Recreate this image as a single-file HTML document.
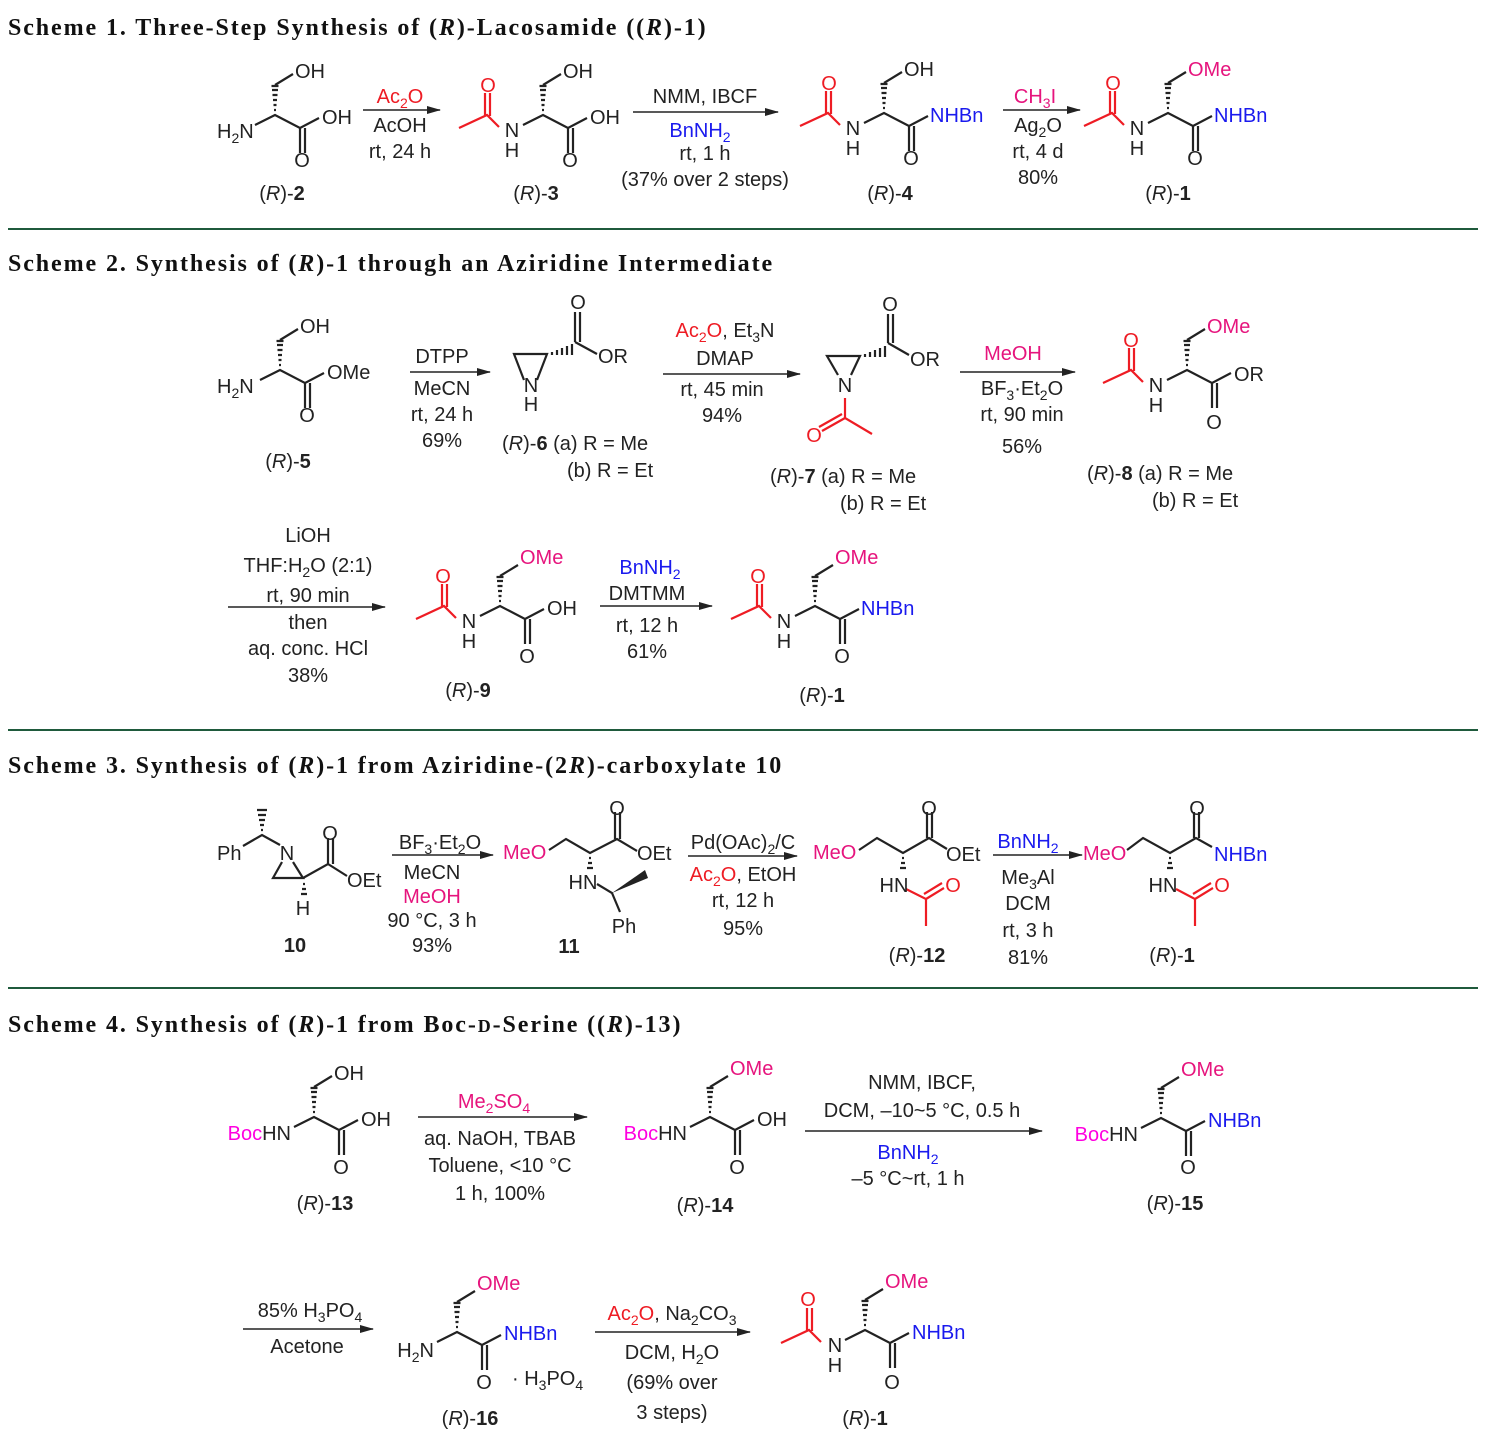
<!DOCTYPE html>
<html><head><meta charset="utf-8"><style>
html,body{margin:0;padding:0;background:#fff}
svg{display:block}
text{font-family:"Liberation Sans",sans-serif;font-size:20px;fill:#222}
.h{font-family:"Liberation Serif",serif;font-size:24px;font-weight:bold;fill:#111;letter-spacing:1.9px}
.m{text-anchor:middle}
.e{text-anchor:end}
.r{fill:#ee1c24}.b{fill:#1a1aee}.p{fill:#e6147d}.k{fill:#ff00e0}
.ln{stroke:#222;stroke-width:2.2;fill:none}
.rl{stroke:#ee1c24;stroke-width:2.2;fill:none}
.sep{stroke:#1f5a3c;stroke-width:2}
.ar{stroke:#222;stroke-width:1.6}
</style></head><body>
<svg width="1489" height="1439" viewBox="0 0 1489 1439" xmlns="http://www.w3.org/2000/svg">
<defs>
<marker id="ah" markerWidth="14" markerHeight="10" refX="13" refY="5" orient="auto" markerUnits="userSpaceOnUse"><path d="M0,1 L14,5 L0,9 z" fill="#222"/></marker>
<g id="core">
<path class="ln" d="M-20,10 L0,0 L25,13 L44,3 M25,13 L25,38 M30,13 L30,38 M0,-30 L18,-41"/>
<path class="ln" stroke-width="1.6" d="M-1,-5 h2 M-1.5,-10 h3 M-2,-15 h4 M-2.5,-20 h5 M-3,-25 h6 M-3.5,-29 h7"/>
</g>
<g id="ac">
<path class="rl" d="M-44,12 L-56,0 L-84,13 M-58,1 L-58,-22 M-53,1 L-53,-22"/>
</g>
</defs>

<!-- Headers -->
<text class="h" x="8" y="35">Scheme 1. Three-Step Synthesis of (<tspan font-style="italic">R</tspan>)-Lacosamide ((<tspan font-style="italic">R</tspan>)-1)</text>
<line class="sep" x1="8" y1="229" x2="1478" y2="229"/>
<text class="h" x="8" y="271">Scheme 2. Synthesis of (<tspan font-style="italic">R</tspan>)-1 through an Aziridine Intermediate</text>
<line class="sep" x1="8" y1="730" x2="1478" y2="730"/>
<text class="h" x="8" y="773">Scheme 3. Synthesis of (<tspan font-style="italic">R</tspan>)-1 from Aziridine-(2<tspan font-style="italic">R</tspan>)-carboxylate 10</text>
<line class="sep" x1="8" y1="988" x2="1478" y2="988"/>
<text class="h" x="8" y="1032">Scheme 4. Synthesis of (<tspan font-style="italic">R</tspan>)-1 from Boc-<tspan font-size="18">D</tspan>-Serine ((<tspan font-style="italic">R</tspan>)-13)</text>

<!-- ===== Scheme 1 ===== -->
<g transform="translate(275,115)"><use href="#core"/>
<text x="20" y="-37">OH</text><text x="47" y="9">OH</text><text class="m" x="27" y="52">O</text>
<text x="-58" y="23">H<tspan dy="5" font-size="14">2</tspan><tspan dy="-5">N</tspan></text></g>
<text class="m" x="282" y="200">(<tspan font-style="italic">R</tspan>)-<tspan font-weight="bold">2</tspan></text>

<line class="ar" x1="363" y1="110" x2="440" y2="110" marker-end="url(#ah)"/>
<text class="m r" x="400" y="103">Ac<tspan dy="5" font-size="14">2</tspan><tspan dy="-5">O</tspan></text>
<text class="m" x="400" y="132">AcOH</text><text class="m" x="400" y="158">rt, 24 h</text>

<g transform="translate(543,115)"><use href="#core"/><use href="#ac"/>
<text x="20" y="-37">OH</text><text x="47" y="9">OH</text><text class="m" x="27" y="52">O</text>
<text class="m" x="-31" y="22">N</text><text class="m" x="-31" y="42">H</text><text class="m r" x="-55" y="-23">O</text></g>
<text class="m" x="536" y="200">(<tspan font-style="italic">R</tspan>)-<tspan font-weight="bold">3</tspan></text>

<line class="ar" x1="633" y1="112" x2="778" y2="112" marker-end="url(#ah)"/>
<text class="m" x="705" y="103">NMM, IBCF</text>
<text class="m b" x="700" y="137">BnNH<tspan dy="5" font-size="14">2</tspan></text>
<text class="m" x="705" y="160">rt, 1 h</text><text class="m" x="705" y="186">(37% over 2 steps)</text>

<g transform="translate(884,113)"><use href="#core"/><use href="#ac"/>
<text x="20" y="-37">OH</text><text class="b" x="46" y="9">NHBn</text><text class="m" x="27" y="52">O</text>
<text class="m" x="-31" y="22">N</text><text class="m" x="-31" y="42">H</text><text class="m r" x="-55" y="-23">O</text></g>
<text class="m" x="890" y="200">(<tspan font-style="italic">R</tspan>)-<tspan font-weight="bold">4</tspan></text>

<line class="ar" x1="1003" y1="110" x2="1080" y2="110" marker-end="url(#ah)"/>
<text class="m p" x="1035" y="103">CH<tspan dy="5" font-size="14">3</tspan><tspan dy="-5">I</tspan></text>
<text class="m" x="1038" y="132">Ag<tspan dy="5" font-size="14">2</tspan><tspan dy="-5">O</tspan></text>
<text class="m" x="1038" y="158">rt, 4 d</text><text class="m" x="1038" y="184">80%</text>

<g transform="translate(1168,113)"><use href="#core"/><use href="#ac"/>
<text class="p" x="20" y="-37">OMe</text><text class="b" x="46" y="9">NHBn</text><text class="m" x="27" y="52">O</text>
<text class="m" x="-31" y="22">N</text><text class="m" x="-31" y="42">H</text><text class="m r" x="-55" y="-23">O</text></g>
<text class="m" x="1168" y="200">(<tspan font-style="italic">R</tspan>)-<tspan font-weight="bold">1</tspan></text>

<!-- ===== Scheme 2 ===== -->
<g transform="translate(280,370)"><use href="#core"/>
<text x="20" y="-37">OH</text><text x="47" y="9">OMe</text><text class="m" x="27" y="52">O</text>
<text x="-63" y="23">H<tspan dy="5" font-size="14">2</tspan><tspan dy="-5">N</tspan></text></g>
<text class="m" x="288" y="468">(<tspan font-style="italic">R</tspan>)-<tspan font-weight="bold">5</tspan></text>

<line class="ar" x1="410" y1="372" x2="490" y2="372" marker-end="url(#ah)"/>
<text class="m" x="442" y="363">DTPP</text><text class="m" x="442" y="395">MeCN</text>
<text class="m" x="442" y="421">rt, 24 h</text><text class="m" x="442" y="447">69%</text>

<!-- R-6 -->
<path class="ln" d="M524,380 L514,354 L547,354 L537,380 M575,342 L575,312 M580,342 L580,312 M575,342 L597,354"/>
<path class="ln" stroke-width="1.6" d="M552,352 v3 M557,350 v5 M562,348 v7 M567,346 v9 M572,344 v11"/>
<text class="m" x="531" y="392">N</text><text class="m" x="531" y="411">H</text>
<text class="m" x="578" y="309">O</text><text x="598" y="363">OR</text>
<text x="502" y="450">(<tspan font-style="italic">R</tspan>)-<tspan font-weight="bold">6</tspan> (a) R = Me</text>
<text x="567" y="477">(b) R = Et</text>

<line class="ar" x1="663" y1="374" x2="800" y2="374" marker-end="url(#ah)"/>
<text class="m" x="725" y="337"><tspan class="r">Ac<tspan dy="5" font-size="14">2</tspan><tspan dy="-5">O</tspan></tspan>, Et<tspan dy="5" font-size="14">3</tspan><tspan dy="-5">N</tspan></text>
<text class="m" x="725" y="365">DMAP</text><text class="m" x="722" y="396">rt, 45 min</text><text class="m" x="722" y="422">94%</text>

<!-- R-7 -->
<path class="ln" d="M838,375 L827,356 L860,356 L851,375 M888,343 L888,314 M893,343 L893,314 M888,343 L909,355"/>
<path class="ln" stroke-width="1.6" d="M865,354 v3 M870,352 v5 M875,350 v7 M880,348 v9 M885,346 v11"/>
<text class="m" x="845" y="392">N</text>
<path class="rl" d="M845,398 L845,418 L872,434 M845,418 L822,431 M842,414 L819,427"/>
<text class="m r" x="814" y="442">O</text>
<text class="m" x="890" y="311">O</text><text x="910" y="366">OR</text>
<text x="770" y="483">(<tspan font-style="italic">R</tspan>)-<tspan font-weight="bold">7</tspan> (a) R = Me</text>
<text x="840" y="510">(b) R = Et</text>

<line class="ar" x1="960" y1="372" x2="1075" y2="372" marker-end="url(#ah)"/>
<text class="m p" x="1013" y="360">MeOH</text>
<text class="m" x="1022" y="395">BF<tspan dy="5" font-size="14">3</tspan><tspan dy="-5">·Et</tspan><tspan dy="5" font-size="14">2</tspan><tspan dy="-5">O</tspan></text>
<text class="m" x="1022" y="421">rt, 90 min</text><text class="m" x="1022" y="453">56%</text>

<g transform="translate(1187,370)"><use href="#core"/><use href="#ac"/>
<text class="p" x="20" y="-37">OMe</text><text x="47" y="11">OR</text><text class="m" x="27" y="59">O</text>
<text class="m" x="-31" y="22">N</text><text class="m" x="-31" y="42">H</text><text class="m r" x="-56" y="-23">O</text></g>
<text x="1087" y="480">(<tspan font-style="italic">R</tspan>)-<tspan font-weight="bold">8</tspan> (a) R = Me</text>
<text x="1152" y="507">(b) R = Et</text>

<!-- row 2 -->
<line class="ar" x1="228" y1="607" x2="385" y2="607" marker-end="url(#ah)"/>
<text class="m" x="308" y="542">LiOH</text>
<text class="m" x="308" y="572">THF:H<tspan dy="5" font-size="14">2</tspan><tspan dy="-5">O (2:1)</tspan></text>
<text class="m" x="308" y="602">rt, 90 min</text><text class="m" x="308" y="629">then</text>
<text class="m" x="308" y="655">aq. conc. HCl</text><text class="m" x="308" y="682">38%</text>

<g transform="translate(500,606)"><use href="#core"/><use href="#ac"/>
<text class="p" x="20" y="-42">OMe</text><text x="47" y="9">OH</text><text class="m" x="27" y="57">O</text>
<text class="m" x="-31" y="22">N</text><text class="m" x="-31" y="42">H</text><text class="m r" x="-57" y="-23">O</text></g>
<text class="m" x="468" y="697">(<tspan font-style="italic">R</tspan>)-<tspan font-weight="bold">9</tspan></text>

<line class="ar" x1="600" y1="606" x2="712" y2="606" marker-end="url(#ah)"/>
<text class="m b" x="650" y="574">BnNH<tspan dy="5" font-size="14">2</tspan></text>
<text class="m" x="647" y="600">DMTMM</text><text class="m" x="647" y="632">rt, 12 h</text><text class="m" x="647" y="658">61%</text>

<g transform="translate(815,606)"><use href="#core"/><use href="#ac"/>
<text class="p" x="20" y="-42">OMe</text><text class="b" x="46" y="9">NHBn</text><text class="m" x="27" y="57">O</text>
<text class="m" x="-31" y="22">N</text><text class="m" x="-31" y="42">H</text><text class="m r" x="-57" y="-23">O</text></g>
<text class="m" x="822" y="702">(<tspan font-style="italic">R</tspan>)-<tspan font-weight="bold">1</tspan></text>

<!-- ===== Scheme 3 ===== -->
<text x="217" y="860">Ph</text>
<path class="ln" d="M243,846 L262,835 L280,845 M282,862 L273,878 L303,878 L293,862 M303,878 L328,864 L347,876 M328,864 L328,838 M333,864 L333,838"/>
<path class="ln" stroke-width="1.6" d="M261,830 h2 M260,825 h4 M259,820 h6 M258,815 h8 M257,810 h10 M303,884 h2 M302,889 h4 M301,894 h6"/>
<text class="m" x="287" y="860">N</text><text class="m" x="303" y="915">H</text>
<text class="m" x="330" y="840">O</text><text x="347" y="887">OEt</text>
<text class="m" x="295" y="952" font-weight="bold">10</text>

<line class="ar" x1="392" y1="855" x2="493" y2="855" marker-end="url(#ah)"/>
<text class="m" x="440" y="849">BF<tspan dy="5" font-size="14">3</tspan><tspan dy="-5">·Et</tspan><tspan dy="5" font-size="14">2</tspan><tspan dy="-5">O</tspan></text>
<text class="m" x="432" y="879">MeCN</text><text class="m p" x="432" y="903">MeOH</text>
<text class="m" x="432" y="927">90 °C, 3 h</text><text class="m" x="432" y="952">93%</text>

<!-- 11 -->
<text class="p" x="503" y="859">MeO</text>
<path class="ln" d="M549,850 L566,839 L590,853 L617,839 L637,851 M615,839 L615,812 M620,839 L620,812 M597,884 L612,893 L620,912"/>
<path class="ln" stroke-width="1.6" d="M589,858 h2 M588,863 h4 M587,868 h6"/>
<path d="M612,893 L645,870 L648,878 Z" fill="#222"/>
<text class="m" x="617" y="815">O</text><text x="637" y="860">OEt</text>
<text class="m" x="583" y="889">HN</text><text class="m" x="624" y="933">Ph</text>
<text class="m" x="569" y="953" font-weight="bold">11</text>

<line class="ar" x1="688" y1="856" x2="797" y2="856" marker-end="url(#ah)"/>
<text class="m" x="743" y="849">Pd(OAc)<tspan dy="5" font-size="14">2</tspan><tspan dy="-5">/C</tspan></text>
<text class="m" x="743" y="881"><tspan class="r">Ac<tspan dy="5" font-size="14">2</tspan><tspan dy="-5">O</tspan></tspan>, EtOH</text>
<text class="m" x="743" y="907">rt, 12 h</text><text class="m" x="743" y="935">95%</text>

<!-- R-12 -->
<text class="p" x="813" y="859">MeO</text>
<path class="ln" d="M859,850 L877,838 L903,853 L929,838 L947,849 M927,838 L927,812 M932,838 L932,812"/>
<path class="ln" stroke-width="1.6" d="M902,858 h2 M901,863 h4 M900,868 h6"/>
<path class="rl" d="M906,889 L926,899 L926,926 M926,899 L944,888 M924,894 L942,883"/>
<text class="m" x="929" y="815">O</text><text x="946" y="861">OEt</text>
<text class="m" x="894" y="892">HN</text><text class="m r" x="953" y="892">O</text>
<text class="m" x="917" y="962">(<tspan font-style="italic">R</tspan>)-<tspan font-weight="bold">12</tspan></text>

<line class="ar" x1="993" y1="855" x2="1082" y2="855" marker-end="url(#ah)"/>
<text class="m b" x="1028" y="848">BnNH<tspan dy="5" font-size="14">2</tspan></text>
<text class="m" x="1028" y="884">Me<tspan dy="5" font-size="14">3</tspan><tspan dy="-5">Al</tspan></text>
<text class="m" x="1028" y="910">DCM</text><text class="m" x="1028" y="937">rt, 3 h</text><text class="m" x="1028" y="964">81%</text>

<!-- R-1 (scheme 3) -->
<text class="p" x="1083" y="860">MeO</text>
<path class="ln" d="M1127,850 L1143,838 L1170,853 L1196,838 L1212,847 M1194,838 L1194,812 M1199,838 L1199,812"/>
<path class="ln" stroke-width="1.6" d="M1169,858 h2 M1168,863 h4 M1167,868 h6"/>
<path class="rl" d="M1176,889 L1195,899 L1195,926 M1195,899 L1213,888 M1193,894 L1211,883"/>
<text class="m" x="1197" y="815">O</text><text class="b" x="1214" y="861">NHBn</text>
<text class="m" x="1163" y="892">HN</text><text class="m r" x="1222" y="892">O</text>
<text class="m" x="1172" y="962">(<tspan font-style="italic">R</tspan>)-<tspan font-weight="bold">1</tspan></text>

<!-- ===== Scheme 4 ===== -->
<g transform="translate(314,1117)"><use href="#core"/>
<text x="20" y="-37">OH</text><text x="47" y="9">OH</text><text class="m" x="27" y="57">O</text>
<text class="e" x="-23" y="23"><tspan class="k">Boc</tspan>HN</text></g>
<text class="m" x="325" y="1210">(<tspan font-style="italic">R</tspan>)-<tspan font-weight="bold">13</tspan></text>

<line class="ar" x1="418" y1="1117" x2="587" y2="1117" marker-end="url(#ah)"/>
<text class="m p" x="494" y="1108">Me<tspan dy="5" font-size="14">2</tspan><tspan dy="-5">SO</tspan><tspan dy="5" font-size="14">4</tspan></text>
<text class="m" x="500" y="1145">aq. NaOH, TBAB</text>
<text class="m" x="500" y="1172">Toluene, &lt;10 °C</text><text class="m" x="500" y="1200">1 h, 100%</text>

<g transform="translate(710,1117)"><use href="#core"/>
<text class="p" x="20" y="-42">OMe</text><text x="47" y="9">OH</text><text class="m" x="27" y="57">O</text>
<text class="e" x="-23" y="23"><tspan class="k">Boc</tspan>HN</text></g>
<text class="m" x="705" y="1212">(<tspan font-style="italic">R</tspan>)-<tspan font-weight="bold">14</tspan></text>

<line class="ar" x1="805" y1="1131" x2="1042" y2="1131" marker-end="url(#ah)"/>
<text class="m" x="922" y="1089">NMM, IBCF,</text>
<text class="m" x="922" y="1117">DCM, –10~5 °C, 0.5 h</text>
<text class="m b" x="908" y="1159">BnNH<tspan dy="5" font-size="14">2</tspan></text>
<text class="m" x="908" y="1185">–5 °C~rt, 1 h</text>

<g transform="translate(1161,1118)"><use href="#core"/>
<text class="p" x="20" y="-42">OMe</text><text class="b" x="47" y="9">NHBn</text><text class="m" x="27" y="56">O</text>
<text class="e" x="-23" y="23"><tspan class="k">Boc</tspan>HN</text></g>
<text class="m" x="1175" y="1210">(<tspan font-style="italic">R</tspan>)-<tspan font-weight="bold">15</tspan></text>

<!-- row 2 -->
<line class="ar" x1="243" y1="1329" x2="373" y2="1329" marker-end="url(#ah)"/>
<text class="m" x="310" y="1317">85% H<tspan dy="5" font-size="14">3</tspan><tspan dy="-5">PO</tspan><tspan dy="5" font-size="14">4</tspan></text>
<text class="m" x="307" y="1353">Acetone</text>

<g transform="translate(457,1332)"><use href="#core"/>
<text class="p" x="20" y="-42">OMe</text><text class="b" x="47" y="8">NHBn</text><text class="m" x="27" y="57">O</text>
<text class="e" x="-23" y="25">H<tspan dy="5" font-size="14">2</tspan><tspan dy="-5">N</tspan></text></g>
<text x="512" y="1385">· H<tspan dy="5" font-size="14">3</tspan><tspan dy="-5">PO</tspan><tspan dy="5" font-size="14">4</tspan></text>
<text class="m" x="470" y="1425">(<tspan font-style="italic">R</tspan>)-<tspan font-weight="bold">16</tspan></text>

<line class="ar" x1="595" y1="1332" x2="750" y2="1332" marker-end="url(#ah)"/>
<text class="m" x="672" y="1320"><tspan class="r">Ac<tspan dy="5" font-size="14">2</tspan><tspan dy="-5">O</tspan></tspan>, Na<tspan dy="5" font-size="14">2</tspan><tspan dy="-5">CO</tspan><tspan dy="5" font-size="14">3</tspan></text>
<text class="m" x="672" y="1359">DCM, H<tspan dy="5" font-size="14">2</tspan><tspan dy="-5">O</tspan></text>
<text class="m" x="672" y="1389">(69% over</text><text class="m" x="672" y="1419">3 steps)</text>

<g transform="translate(865,1330)"><use href="#core"/><use href="#ac"/>
<text class="p" x="20" y="-42">OMe</text><text class="b" x="47" y="9">NHBn</text><text class="m" x="27" y="59">O</text>
<text class="m" x="-30" y="22">N</text><text class="m" x="-30" y="42">H</text><text class="m r" x="-57" y="-24">O</text></g>
<text class="m" x="865" y="1425">(<tspan font-style="italic">R</tspan>)-<tspan font-weight="bold">1</tspan></text>
</svg>
</body></html>
